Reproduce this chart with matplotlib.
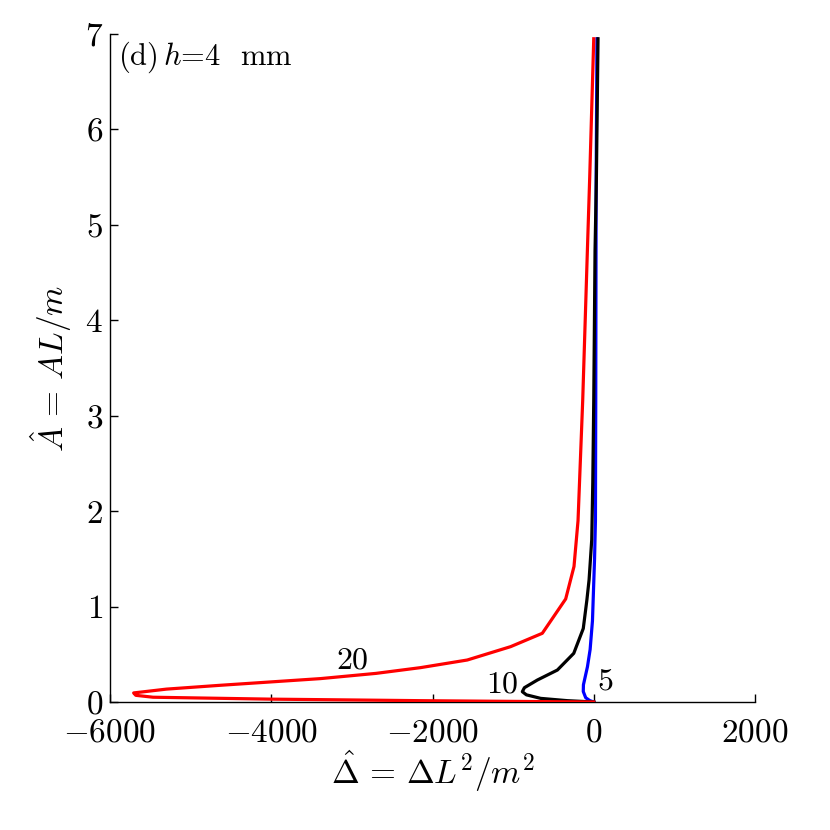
import matplotlib
matplotlib.use("Agg")
import matplotlib.pyplot as plt

plt.rcParams['mathtext.fontset'] = 'cm'
plt.rcParams['font.family'] = 'serif'
plt.rcParams['font.serif'] = ['cmr10', 'DejaVu Serif']
plt.rcParams['axes.unicode_minus'] = False

# Series 5 (blue)
x5 = [40, 30, 28, 25, 21, 10, -16, -45, -78, -128, -130, -100, -50, 0]
y5 = [6.95, 5.5, 4.7, 3.16, 1.9, 1.5, 0.85, 0.55, 0.37, 0.18, 0.11, 0.045, 0.015, 0.0]
# Series 10 (black)
x10 = [53, 33, 16, 0, -12, -25, -58, -85, -130, -248, -451, -700, -860, -886, -835,
       -658, -327, 0]
y10 = [6.95, 5.5, 4.73, 3.16, 2.3, 1.7, 1.28, 1.07, 0.77, 0.51, 0.335, 0.23, 0.15,
       0.108, 0.075, 0.038, 0.014, 0.0]
# Series 20 (red)
x20 = [0, -50, -79, -137, -195, -245, -348, -638, -1031, -1569, -2149, -2700, -3391,
       -4634, -5300, -5707, -5680, -5466, -4012, -2149, 0]
y20 = [6.95, 5.5, 4.73, 3.16, 1.9, 1.42, 1.08, 0.72, 0.58, 0.44, 0.36, 0.30, 0.245,
       0.175, 0.135, 0.095, 0.07, 0.05, 0.03, 0.014, 0.0]

xticks = [-6000, -4000, -2000, 0, 2000]
yticks = [0, 1, 2, 3, 4, 5, 6, 7]

fig = plt.figure(figsize=(8.3, 8.3), dpi=100)
ax = fig.add_axes([110/830, 1-702/830, (755-110)/830, (702-34)/830])

ax.plot(x5, y5, color='#0000ff', lw=2.3, zorder=2)
ax.plot(x10, y10, color='black', lw=2.3, zorder=3)
ax.plot(x20, y20, color='#ff0000', lw=2.3, zorder=4)

ax.set_xlim(-6000, 2000)
ax.set_ylim(0, 7)
ax.set_xticks(xticks)
ax.set_xticklabels([r'$%d$' % v for v in xticks])
ax.set_yticks(yticks)
ax.set_yticklabels([r'$%d$' % v for v in yticks])
ax.tick_params(direction='in', length=6, width=1.0, labelsize=24)
ax.tick_params(axis='x', pad=12)
ax.tick_params(axis='y', pad=5)
for s in ['top', 'right']:
    ax.spines[s].set_visible(False)
for s in ['left', 'bottom']:
    ax.spines[s].set_linewidth(1.0)

ax.set_xlabel(r'$\hat{\Delta}\,=\,\Delta L^2/m^2$', fontsize=24, labelpad=1)
ax.set_ylabel(r'$\hat{A}\,=\,AL/m$', fontsize=24, labelpad=8)

ax.text(0.012, 0.992, r'(d)$\,h$=4  mm', transform=ax.transAxes,
        fontsize=22, ha='left', va='top')
ax.text(-3000, 0.43, r'$20$', fontsize=23, ha='center', va='center')
ax.text(-1130, 0.18, r'$10$', fontsize=23, ha='center', va='center')
ax.text(40, 0.21, r'$5$', fontsize=23, ha='left', va='center')

fig.savefig('out.png', dpi=100)
